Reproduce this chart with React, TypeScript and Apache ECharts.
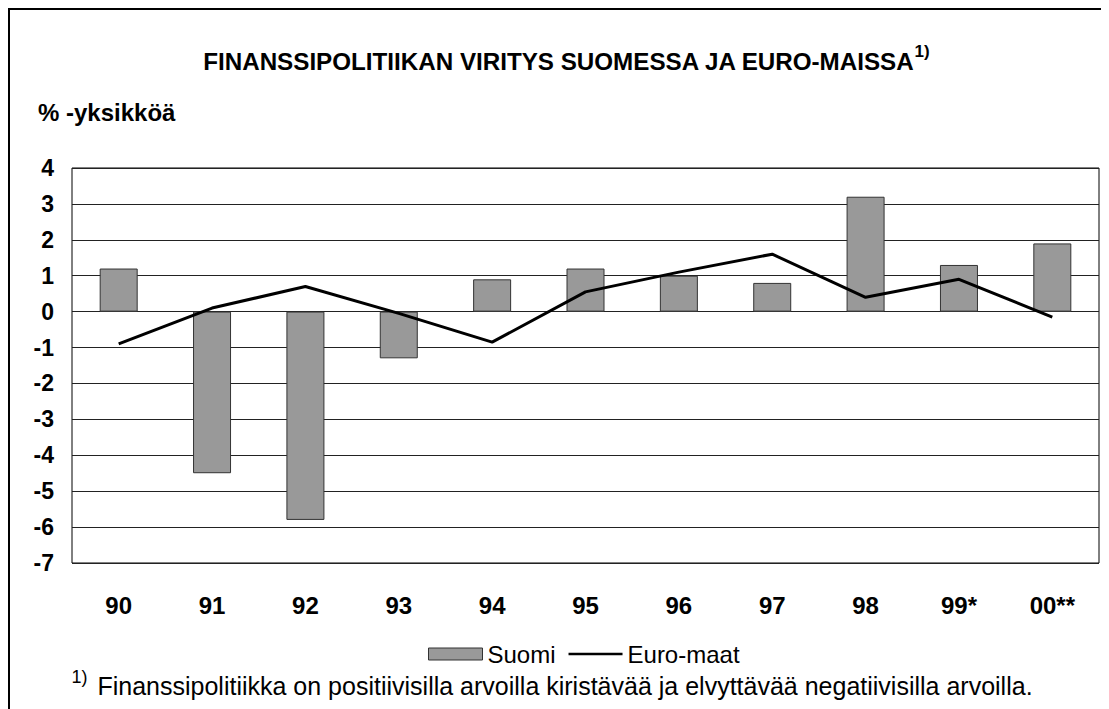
import React, { useEffect, useRef } from "react";
import * as echarts from "echarts";

const categories = ["90", "91", "92", "93", "94", "95", "96", "97", "98", "99*", "00**"];
const suomi = [1.2, -4.5, -5.8, -1.3, 0.9, 1.2, 1.0, 0.8, 3.2, 1.3, 1.9];
const euroMaat = [-0.9, 0.1, 0.7, -0.05, -0.85, 0.55, 1.1, 1.6, 0.4, 0.9, -0.15];

const titleText = "FINANSSIPOLITIIKAN VIRITYS SUOMESSA JA EURO-MAISSA";
const unitText = "% -yksikköä";
const footText = "Finanssipolitiikka on positiivisilla arvoilla kiristävää ja elvyttävää negatiivisilla arvoilla.";
const FONT = "'Liberation Sans', Arial, sans-serif";

export default function App() {
  const ref = useRef<HTMLDivElement>(null);
  useEffect(() => {
    if (!ref.current) return;
    const chart = echarts.init(ref.current, undefined, { renderer: "svg" });
    chart.setOption({
      animation: false,
      backgroundColor: "#fff",
      textStyle: { fontFamily: FONT },
      grid: { left: 64, top: 160, width: 1027, height: 395, show: true, borderColor: "#000", borderWidth: 1, backgroundColor: "transparent" },
      xAxis: {
        type: "category",
        data: categories,
        boundaryGap: true,
        axisLine: { show: false },
        axisTick: { show: false },
        axisLabel: { color: "#000", fontWeight: "bold", fontSize: 24, fontFamily: FONT, margin: 30 },
      },
      yAxis: {
        type: "value",
        min: -7,
        max: 4,
        interval: 1,
        axisLine: { show: false },
        axisTick: { show: false },
        splitLine: { lineStyle: { color: "#222", width: 1 } },
        axisLabel: { color: "#000", fontWeight: "bold", fontSize: 23, fontFamily: FONT, margin: 18 },
      },
      legend: {
        left: 415,
        top: 629,
        itemWidth: 54,
        itemHeight: 12,
        itemGap: 13,
        symbolKeepAspect: true,
        textStyle: { color: "#000", fontSize: 24, fontFamily: FONT },
        data: [
          { name: "Suomi", icon: "rect", itemStyle: { color: "#999999", borderColor: "#333", borderWidth: 1 } },
          { name: "Euro-maat", icon: "path://M0,0 H54 V2.5 H0 Z", itemStyle: { color: "#000", borderWidth: 0 } },
        ],
      },
      series: [
        {
          name: "Suomi",
          type: "bar",
          data: suomi,
          barWidth: 38,
          itemStyle: { color: "#999999", borderColor: "#333", borderWidth: 1 },
        },
        {
          name: "Euro-maat",
          type: "line",
          data: euroMaat,
          symbol: "none",
          showSymbol: false,
          lineStyle: { color: "#000", width: 3 },
          itemStyle: { color: "#000" },
        },
      ],
      graphic: [
        { type: "rect", shape: { x: 1, y: 1, width: 1300, height: 1300 }, style: { fill: "none", stroke: "#000", lineWidth: 2 }, silent: true },
        {
          type: "text",
          x: 558,
          y: 50,
          style: {
            text: "{t|" + titleText + "}{s|1)}",
            textAlign: "center",
            textVerticalAlign: "middle",
            rich: {
              t: { fontSize: 24.2, fontWeight: "bold", fontFamily: FONT, fill: "#000", lineHeight: 30, verticalAlign: "bottom" },
              s: { fontSize: 17, fontWeight: "bold", fontFamily: FONT, fill: "#000", lineHeight: 30, verticalAlign: "top", padding: [0, 0, 12, 0] },
            },
          },
        },
        {
          type: "text",
          x: 30,
          y: 104,
          style: { text: unitText, font: "bold 24px " + FONT, fill: "#000", textVerticalAlign: "middle" },
        },
        {
          type: "text",
          x: 544,
          y: 675,
          style: {
            text: "{s|1)}{t|" + footText + "}",
            textAlign: "center",
            textVerticalAlign: "middle",
            rich: {
              s: { fontSize: 18, fontFamily: FONT, fill: "#000", lineHeight: 30, verticalAlign: "top", padding: [0, 10, 12, 0] },
              t: { fontSize: 25, fontFamily: FONT, fill: "#000", lineHeight: 30, verticalAlign: "bottom" },
            },
          },
        },
      ],
    });
    return () => chart.dispose();
  }, []);
  return <div ref={ref} style={{ width: 1101, height: 701 }} />;
}
